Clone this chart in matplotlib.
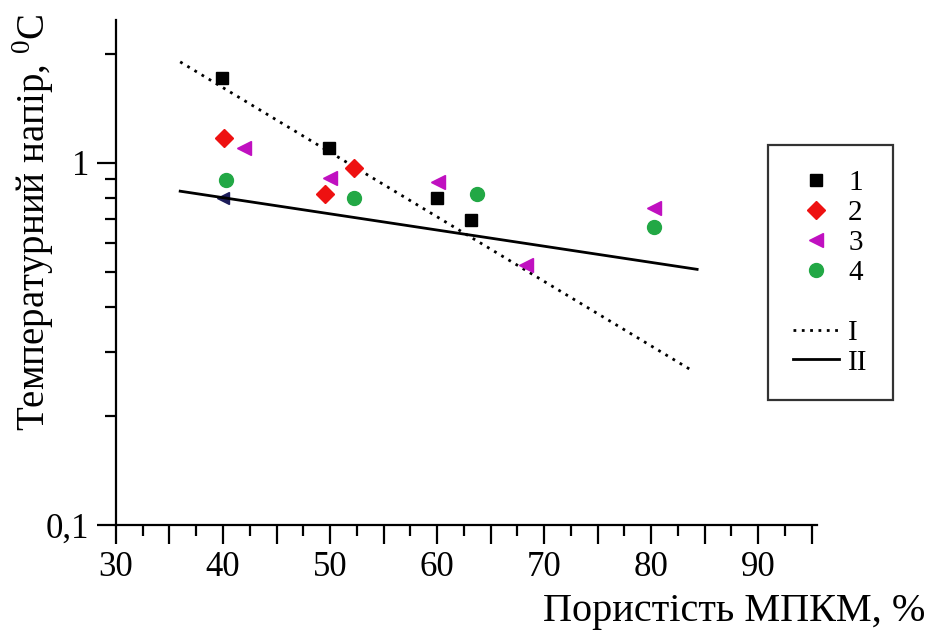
import matplotlib
matplotlib.use("Agg")
import matplotlib.pyplot as plt
from matplotlib.lines import Line2D
from matplotlib.ticker import FixedLocator, FuncFormatter, LogLocator, NullFormatter

plt.rcParams['font.family'] = ['Liberation Serif', 'DejaVu Serif']
plt.rcParams['mathtext.fontset'] = 'custom'
plt.rcParams['mathtext.rm'] = 'Liberation Serif'

# ---- data ----
s1_x = [39.9, 49.9, 60.0, 63.2]
s1_y = [1.72, 1.10, 0.80, 0.695]

s2_x = [40.1, 49.5, 52.2]
s2_y = [1.17, 0.82, 0.965]

s3_x = [42.0, 50.0, 60.1, 68.3, 80.3]
s3_y = [1.096, 0.91, 0.886, 0.522, 0.748]

s3b_x = [40.0]          # faint dark marker partially hidden by line II
s3b_y = [0.80]

s4_x = [40.3, 52.2, 63.7, 80.3]
s4_y = [0.896, 0.798, 0.818, 0.666]

lineI_x = [36.0, 84.0]
lineI_y = [1.90, 0.265]
lineII_x = [36.0, 84.3]
lineII_y = [0.835, 0.508]

series_labels = ['1', '2', '3', '4']
line_labels = ['I', 'II']
xtick_vals = [30, 40, 50, 60, 70, 80, 90]

# ---- figure ----
fig = plt.figure(figsize=(9.3, 6.4), dpi=100)
ax = fig.add_axes([0.1247, 0.1797, 0.7538, 0.7891])

ax.set_yscale('log')
ax.set_xlim(30, 95.5)
ax.set_ylim(0.1, 2.48)

ax.plot(s3b_x, s3b_y, linestyle='none', marker='<', markersize=8, color='#1c1c5a', zorder=2)
ax.plot(lineI_x, lineI_y, color='black', linestyle=(0, (1, 2.0)), linewidth=2.0, zorder=3)
ax.plot(lineII_x, lineII_y, color='black', linestyle='-', linewidth=2.0, zorder=3)

ax.plot(s1_x, s1_y, linestyle='none', marker='s', markersize=8, color='black', zorder=4)
ax.plot(s2_x, s2_y, linestyle='none', marker='D', markersize=9, color='#ee1111', zorder=4)
ax.plot(s3_x, s3_y, linestyle='none', marker='<', markersize=10, color='#c010c0', zorder=4)
ax.plot(s4_x, s4_y, linestyle='none', marker='o', markersize=10, color='#22a845', zorder=4)

# spines
for side in ['top', 'right']:
    ax.spines[side].set_visible(False)
for side in ['left', 'bottom']:
    ax.spines[side].set_linewidth(1.6)

# x ticks
ax.xaxis.set_major_locator(FixedLocator([30, 35, 40, 45, 50, 55, 60, 65, 70, 75, 80, 85, 90, 95]))
ax.xaxis.set_major_formatter(FuncFormatter(lambda v, p: f"{int(round(v))}" if int(round(v)) in xtick_vals else ""))
ax.xaxis.set_minor_locator(FixedLocator([32.5, 37.5, 42.5, 47.5, 52.5, 57.5, 62.5, 67.5, 72.5, 77.5, 82.5, 87.5, 92.5]))

# y ticks
ax.yaxis.set_major_locator(FixedLocator([0.1, 1.0]))
ax.yaxis.set_major_formatter(FuncFormatter(lambda v, p: ("%g" % v).replace('.', ',')))
ax.yaxis.set_minor_locator(LogLocator(base=10, subs=range(2, 10)))
ax.yaxis.set_minor_formatter(NullFormatter())

ax.tick_params(which='major', direction='out', length=14, width=1.6, labelsize=25, pad=5)
ax.tick_params(which='minor', direction='out', length=8, width=1.6)

ax.set_xlabel('Пористість МПКМ, %', fontsize=29, ha='right')
ax.xaxis.set_label_coords(1.154, -0.135)
ax.set_ylabel('Температурний напір, $^{0}$C', fontsize=28, va='center')
ax.yaxis.set_label_coords(-0.118, 0.6)

# legend
handles = [
    Line2D([], [], linestyle='none', marker='s', markersize=8, color='black'),
    Line2D([], [], linestyle='none', marker='D', markersize=9, color='#ee1111'),
    Line2D([], [], linestyle='none', marker='<', markersize=10, color='#c010c0'),
    Line2D([], [], linestyle='none', marker='o', markersize=10, color='#22a845'),
    Line2D([], [], linestyle='none', color='none'),
    Line2D([], [], color='black', linestyle=(0, (1, 2.0)), linewidth=2.0),
    Line2D([], [], color='black', linestyle='-', linewidth=2.0),
]
labels = series_labels + [''] + line_labels
leg = fig.legend(handles, labels, loc='upper left',
                 bbox_to_anchor=(768 / 930, 1 - 145 / 640),
                 fontsize=21, frameon=True, fancybox=False, shadow=False,
                 handlelength=1.6, handletextpad=0.3, labelspacing=0.12,
                 borderpad=0.85, borderaxespad=0.0)
leg.get_frame().set_edgecolor('black')
leg.get_frame().set_linewidth(1.6)

fig.savefig('out.png', dpi=100)
